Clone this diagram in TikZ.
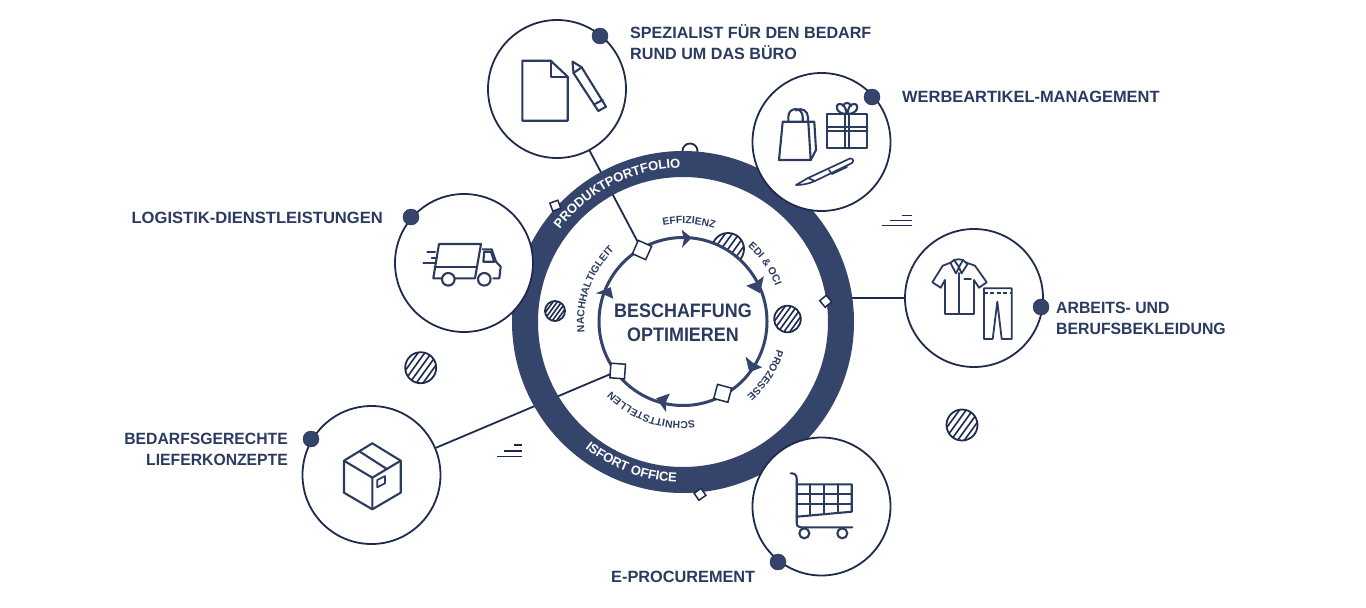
\documentclass[tikz,border=0pt]{standalone}
\usepackage{fontspec}
\setmainfont{Liberation Sans}
\usetikzlibrary{decorations.text}
\definecolor{navy}{HTML}{2B3A60}
\definecolor{ringc}{HTML}{34446B}
\definecolor{linec}{HTML}{1F2B4D}
\tikzset{
  bubble/.style={circle,draw=linec,fill=white,line width=1.8pt,minimum size=138pt,inner sep=0pt},
  bubbleghost/.style={circle,minimum size=138pt,inner sep=0pt},
  dotn/.style={circle,fill=ringc,draw=linec,line width=.4pt,minimum size=16pt,inner sep=0pt},
  lab/.style={text=navy,font=\bfseries\fontsize{16.3}{21}\selectfont,inner sep=0pt},
  icon/.style={draw=navy,line width=2.1pt,line join=round,line cap=round},
  conn/.style={draw=linec,line width=1.8pt},
  sq/.style={draw=linec,fill=white,line width=1.5pt,minimum size=#1,inner sep=0pt},
  hatchc/.style={draw=linec,line width=1.8pt},
  ringtext/.style={decorate,decoration={text along path,text align=center,text color=white,
     text={|\bfseries\fontsize{13}{13}\selectfont|#1}}},
  innertext/.style={decorate,decoration={text along path,text align=center,text color=navy,
     text={|\bfseries\fontsize{10.3}{11}\selectfont|#1}}},
}
\newcommand{\hatchdisc}[3]{% x,y,r
  \begin{scope}
    \clip (#1,#2) circle (#3);
    \fill[white] (#1,#2) circle (#3);
    \foreach \k in {-6,...,6}{
      \draw[linec,line width=1.6pt] ({#1+\k*0.433*#3-35},{#2+48.2}) -- ({#1+\k*0.433*#3+35},{#2-48.2});
    }
  \end{scope}
  \draw[hatchc] (#1,#2) circle (#3);
}
\newcommand{\speedlines}[4]{% right x, mid y, length, spacing
  \draw[linec,line width=1.6pt] ({#1-.33*#3},{#2-#4}) -- (#1,{#2-#4})
     ({#1-.72*#3},#2) -- (#1,#2) ({#1-#3},{#2+#4}) -- (#1,{#2+#4});
}
\begin{document}
\begin{tikzpicture}[x=1pt,y=-1pt]
\useasboundingbox (0,0) rectangle (1366,608);
\fill[white] (0,0) rectangle (1366,608);
\coordinate (C) at (683,322);

% small item behind the ring
\draw[hatchc,fill=white] (690,151) circle (7.5);

% connectors (ring overlaps them)
\coordinate (S1) at (642,250);
\coordinate (S2) at (617.7,371);
\coordinate (K) at (840,298);
\node[bubbleghost] (nbuero0) at (557,89) {};
\node[bubbleghost] (nkleid0) at (974,298) {};
\node[bubbleghost] (nbox0) at (371.5,475) {};
\draw[conn] (nbuero0) -- (S1);
\draw[conn] (nbox0) -- (S2);
\draw[conn] (nkleid0) -- (K);

% ring
\draw[ringc,line width=26pt] (C) circle (158);

% ring text
\path[ringtext={PRODUKTPORTFOLIO}] ([shift={(205:154)}]C) arc (205:281:154);
\path[ringtext={ISFORT OFFICE}] ([shift={(130:160)}]C) arc (130:90:160);

% small squares on the ring
\node[sq=8.5pt,rotate=20] (q1) at (555.3,205.7) {};
\node[sq=8.5pt,rotate=40] (q2) at (825.7,301.3) {};
\node[sq=8.5pt,rotate=35] (q3) at (700,494.3) {};

% hatched half disc behind inner circle
\hatchdisc{728}{249}{16}
\fill[white] (683,321.5) circle (84);

% inner circle
\draw[ringc,line width=3pt] (683,321.5) circle (84);
\fill[ringc] (691.7,237.7) -- (681.5,229.5) -- (684,239) -- (682,247.8) -- cycle;
\fill[ringc] (760,293.3) -- (746.2,285.7) -- (755.5,282.5) -- (763.8,276.2) -- cycle;
\fill[ringc] (749.3,372.2) -- (745.5,356.5) -- (752.5,362.5) -- (762.2,367.3) -- cycle;
\fill[ringc] (656.2,398.3) -- (669.8,393.5) -- (666,402) -- (666.2,412.2) -- cycle;
\fill[ringc] (610.7,287.2) -- (595.5,293.3) -- (604,294.5) -- (613.2,298.8) -- cycle;

\node[sq=14.6pt,rotate=-24] (s1) at (S1) {};
\node[sq=14.6pt,rotate=-4] (s2) at (S2) {};
\node[sq=14.6pt,rotate=-15] (s3) at (722.7,393.3) {};

% inner text
\path[innertext={EFFIZIENZ}] ([shift={(-104:98)}]683,321.5) arc (-104:-69:98);
\path[innertext={EDI {\&} OCI}] ([shift={(-55:99)}]683,321.5) arc (-55:-15:99);
\path[innertext={PROZESSE}] ([shift={(12:98)}]683,321.5) arc (12:54:98);
\path[innertext={SCHNITTSTELLEN}] ([shift={(77:100)}]683,321.5) arc (77:142:100);
\path[innertext={NACHHALTIGLEIT}] ([shift={(165:99)}]683,321.5) arc (165:235:99);

\node[text=navy,font=\bfseries\fontsize{19.5}{24.5}\selectfont,align=center,inner sep=0pt] (title) at (683,323) {\scalebox{.92}[1]{BESCHAFFUNG}\\\scalebox{.92}[1]{OPTIMIEREN}};

% decorative hatched discs
\hatchdisc{787.5}{319}{13.3}
\hatchdisc{555}{311}{10}
\hatchdisc{420.7}{367.7}{15.5}
\hatchdisc{962}{425}{15.5}
\speedlines{522}{450.7}{25}{5.8}
\speedlines{911.7}{220.3}{30}{5}

% bubbles
\node[bubble] (nbuero) at (557,89) {};
\node[bubble] (nwerbe) at (821.5,142) {};
\node[bubble] (nlog) at (464,263) {};
\node[bubble] (nkleid) at (974,298) {};
\node[bubble] (nbox) at (371.5,475) {};
\node[bubble] (ncart) at (821.5,506.5) {};

% dots
\node[dotn] (d1) at (600,36) {};
\node[dotn] (d2) at (872,97) {};
\node[dotn] (d3) at (411,217) {};
\node[dotn] (d4) at (1041,307) {};
\node[dotn] (d5) at (311,439) {};
\node[dotn] (d6) at (778,562) {};

% labels
\node[lab,anchor=north west,align=left] (l1) at (630,24) {\scalebox{.99}[1]{SPEZIALIST FÜR DEN BEDARF}\\\scalebox{.99}[1]{RUND UM DAS BÜRO}};
\node[lab,anchor=west] (l2) at (902,97) {\scalebox{1.008}[1]{WERBEARTIKEL-MANAGEMENT}};
\node[lab,anchor=east] (l3) at (383,218) {\scalebox{1.016}[1]{LOGISTIK-DIENSTLEISTUNGEN}};
\node[lab,anchor=north west,align=left] (l4) at (1056,302) {\scalebox{.97}[1]{ARBEITS- UND}\\\scalebox{.97}[1]{BERUFSBEKLEIDUNG}};
\node[lab,anchor=north east,align=right] (l5) at (288,433) {\scalebox{.965}[1]{BEDARFSGERECHTE}\\\scalebox{.965}[1]{LIEFERKONZEPTE}};
\node[lab,anchor=west] (l6) at (611,576.5) {E-PROCUREMENT};

% --- icons ---
% document
\draw[icon] (522.3,60.7) -- (550.7,60.7) -- (567.7,76.7) -- (567.7,120.7) -- (522.3,120.7) -- cycle;
\draw[icon] (550.7,60.7) -- (550.7,76.7) -- (567.7,76.7);
% pencil
\draw[icon] (572.5,61.5) -- (581.7,67.3) -- (606,106.7) -- (598.3,111) -- (573.5,73) -- cycle;
\draw[icon] (573.5,73) -- (581.7,67.3);
\draw[icon] (594.3,104.3) -- (602.7,100);
% bag
\draw[icon] (782.7,121.7) -- (808.3,121.7) -- (810.7,160) -- (779,160) -- cycle;
\draw[icon] (808.3,121.7) -- (814.3,121.7) -- (816,150) -- (810.7,160);
\draw[icon] (788.3,121.7) -- (788.3,117) .. controls (788.3,106.5) and (802.7,106.5) .. (802.7,117) -- (802.7,121.7);
\draw[icon] (796,110.5) .. controls (802,107) and (808,111) .. (808,117.5) -- (808,121.7);
% gift
\draw[icon] (826.7,114) rectangle (867.3,148.3);
\draw[icon] (826.7,126.7) -- (867.3,126.7) (826.7,130.7) -- (867.3,130.7);
\draw[icon] (845,114) -- (845,148.3) (849,114) -- (849,148.3);
\draw[icon] (846.5,114) .. controls (836,114) and (834,104) .. (840,104) .. controls (844,104) and (846,108) .. (846.5,114);
\draw[icon] (847.5,114) .. controls (858,114) and (860,104) .. (854,104) .. controls (850,104) and (848,108) .. (847.5,114);
\draw[icon] (843,106) .. controls (844,102) and (850,102) .. (851,106);
% pen
\draw[icon,line width=1.7pt] (796,185) -- (808,178) -- (850,158.5) .. controls (853,158) and (854,161) .. (852,163) -- (815,181) .. controls (808,184) and (802,185) .. (796,185) -- cycle;
\draw[icon,line width=1.7pt] (808,178) -- (815,181);
\draw[icon,line width=1.7pt] (829,170) -- (832,174) -- (847,167);
% truck
\draw[icon] (441.7,278.3) -- (433.3,278.3) -- (439,244) -- (481,244) -- (475,278.3) -- (455,278.3);
\draw[icon] (434.3,266.7) -- (476.5,266.7);
\draw[icon] (448.3,279.3) circle (6.3) (484.3,279.3) circle (6.3);
\draw[icon] (482.7,249.3) -- (491.7,249.3) -- (496,261.7) -- (500.7,266.7) -- (499.3,278.3) -- (493.3,278.3);
\draw[icon] (484.3,251.7) -- (491,251.7) -- (494.3,261.7) -- (483.3,261.7) -- cycle;
\draw[icon] (427.3,252.3) -- (435,252.3) (431.7,257.7) -- (436.7,257.7) (423.3,263.3) -- (435,263.3);
% shirt
\draw[icon,line width=1.8pt] (951,262.5) -- (942.7,265.7) -- (932.3,282.3) -- (940.7,287.7) -- (945,280) -- (945,314) -- (974,314) -- (974,280) -- (979,287.7) -- (986.7,282.3) -- (975,265.7) -- (966,262.5);
\draw[icon,line width=1.8pt] (951,262.5) -- (954,260) .. controls (957,259) and (960,259) .. (963,260) -- (967.5,264) -- (961.5,273.5) -- (959,267) -- (956,273.5) -- (951,264) -- cycle;
\draw[icon,line width=1.8pt] (954,260) -- (959,267) -- (963,260);
\draw[icon,line width=1.8pt] (959.3,273) -- (959.3,314);
\draw[icon,line width=1.8pt] (964.3,279.3) -- (971,279.3);
% trousers
\draw[icon,line width=1.8pt] (984,288.3) -- (1011.7,288.3) -- (1011.7,339) -- (1001.7,339) -- (997.3,301.7) -- (992.7,339) -- (984,339) -- cycle;
\draw[icon,line width=1.8pt,line cap=butt,dash pattern=on 4pt off 2.4pt] (984,292.8) -- (1011.7,292.8);
% box
\draw[icon] (372.3,443.3) -- (400.7,460.7) -- (400.7,492.7) -- (372.3,509.3) -- (344,492.7) -- (344,460.7) -- cycle;
\draw[icon] (344,460.7) -- (372.3,477.7) -- (400.7,460.7) (372.3,477.7) -- (372.3,509.3);
\draw[icon] (360,451.7) -- (387.3,469.3);
\draw[icon,line width=1.7pt] (377.3,480) -- (385,476) -- (385,483.3) -- (377.3,487.3) -- cycle;
% cart
\draw[icon] (790.7,473.3) .. controls (795,473.3) and (796.7,475) .. (796.7,479) -- (796.7,522.3) .. controls (796.7,526) and (798,527.3) .. (801,527.3) -- (852.3,527.3);
\draw[icon] (796.7,484.3) -- (851.7,484.3) -- (851.7,511.7) -- (796.7,516.7);
\draw[icon] (796.7,494.3) -- (851.7,494.3) (796.7,504.3) -- (851.7,504.3);
\draw[icon] (810,484.3) -- (810,515.5) (824,484.3) -- (824,514.2) (837.7,484.3) -- (837.7,513);
\draw[icon] (804.3,533.3) circle (5) (842.3,533.3) circle (5);
\end{tikzpicture}
\end{document}
